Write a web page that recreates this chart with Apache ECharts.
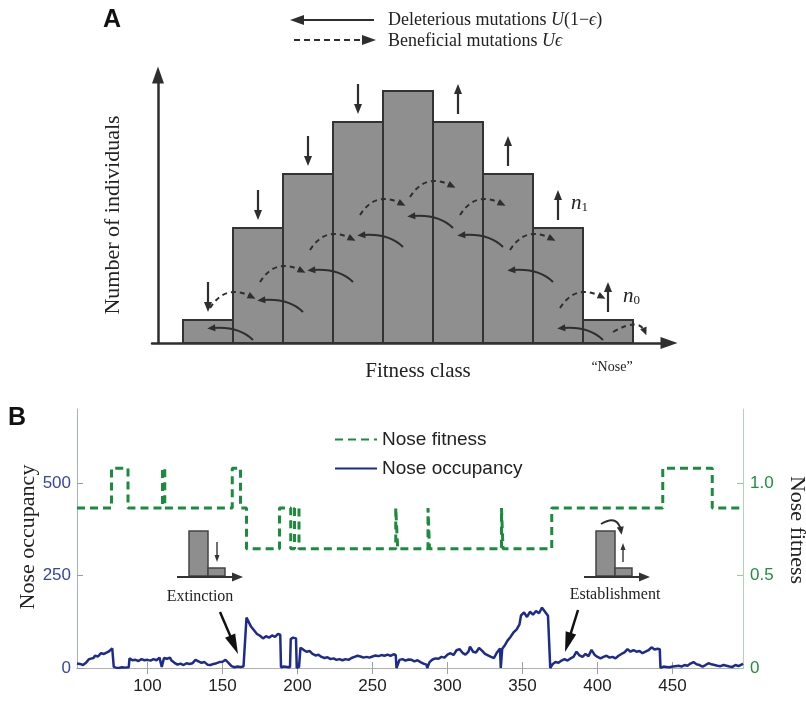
<!DOCTYPE html>
<html>
<head>
<meta charset="utf-8">
<script src="https://cdn.jsdelivr.net/npm/echarts@6/dist/echarts.min.js"></script>
<style>
  html, body { margin: 0; padding: 0; background: #fff; }
  #main { width: 806px; height: 701px; }
</style>
</head>
<body>
<div id="main"></div>
<script>
// ---- panel A : schematic fitness classes ----
var fitnessClass = [1, 2, 3, 4, 5, 6, 7, 8, 9];
var classCounts = [23, 115, 169, 221, 252, 221, 169, 115, 23];
var lossClass = [1, 2, 3, 4];
var gainClass = [6, 7, 8, 9];
// curved arrows at the boundary between class k and k+1
var beneficialFrom = [1, 2, 3, 4, 5, 6, 7, 8, 9];
var beneficialLevel = [35, 61, 93, 128, 146, 128, 93, 35, 11];
var deleteriousFrom = [1, 2, 3, 4, 5, 6, 7, 8];
var deleteriousLevel = [3, 31, 61, 96, 115, 96, 61, 3];

// ---- panel B : nose over time ----
var tickValues = [100, 150, 200, 250, 300, 350, 400, 450];
var noseFitness = [
  [53, 0.865], [76, 1.08], [87, 0.865], [110, 1.08], [111.5, 0.865], [156.5, 1.08], [162, 0.865],
  [166, 0.645], [188, 0.865], [195.5, 0.645], [198, 0.865], [201, 0.645], [265.5, 0.865],
  [266.8, 0.645], [287, 0.865], [288, 0.645], [336, 0.865], [337, 0.645], [369.5, 0.865],
  [443.5, 1.08], [476.5, 0.865], [497, 0.865]
];
var noseOccupancy = [
  [53,12],[55,11],[57,8],[59,14],[61,24],[62,29],[64,27],[65,33],[67,31],[69,40],[71,38],[72,42],
  [74,44],[75,49],[76.5,53],[77.5,3],[79,1],[81,0],[83,2],[85,1],[87.5,2],[88,26],[90,21],[92,22],
  [94,19],[96,24],[98,21],[100,22],[102,20],[104,24],[106,21],[108,28],[109.5,3],[110.5,4],[111,27],
  [113,25],[115,28],[116,20],[118,14],[120,9],[122,12],[124,8],[126,13],[128,11],[130,13],[132,22],
  [134,18],[136,14],[138,16],[140,9],[142,8],[144,11],[146,13],[148,16],[150,17],[152,22],[154,14],
  [156,5],[158,2],[160,4],[162,3],[164,4],[165,4],[166,136],[167,128],[169,112],[171,102],[173,92],
  [175,87],[177,80],[179,86],[181,82],[183,88],[185,84],[187,92],[188.5,90],[189,2],[191,4],[193,3],
  [195,2],[195.5,78],[197,82],[199,80],[199.5,0],[201,3],[202,55],[204,49],[206,44],[208,46],[210,38],
  [212,34],[214,36],[216,30],[218,27],[220,29],[222,24],[224,26],[226,22],[228,24],[230,21],[232,24],
  [234,22],[236,27],[238,30],[240,33],[242,31],[244,28],[246,30],[248,28],[250,31],[252,34],[254,32],
  [256,35],[258,33],[260,36],[262,33],[264,37],[265.5,35],[266,0],[267,3],[268,22],[270,24],[272,20],
  [274,23],[276,22],[278,18],[280,21],[282,16],[284,12],[286,9],[286.5,0],[288,16],[290,23],[292,26],
  [294,25],[296,30],[298,28],[300,36],[302,40],[304,35],[306,48],[308,51],[310,41],[312,36],[314,44],
  [315,58],[317,44],[319,42],[321,54],[323,47],[325,38],[327,34],[329,30],[331,27],[333,42],[335,53],
  [335.5,0],[336.5,52],[338,60],[340,74],[342,84],[344,96],[346,104],[348,118],[349,142],[351,150],
  [353,138],[355,152],[357,144],[359,154],[361,148],[363,163],[365,152],[367,141],[368,138],[368.5,0],
  [370,10],[372,16],[374,14],[376,20],[378,24],[380,20],[382,26],[384,30],[386,44],[388,34],[390,30],
  [392,38],[394,32],[396,49],[398,36],[400,30],[402,26],[404,30],[406,33],[408,28],[410,30],[412,26],
  [414,33],[416,38],[418,42],[420,51],[422,44],[424,48],[426,44],[428,46],[430,40],[432,44],[434,48],
  [436,56],[438,50],[440,52],[441.5,51],[442,0],[444,4],[446,3],[448,2],[450,4],[452,5],[454,6],
  [456,4],[458,8],[460,6],[462,12],[464,16],[466,10],[468,8],[470,4],[472,8],[474,13],[476,10],
  [478,8],[480,6],[482,5],[484,8],[486,6],[488,4],[490,3],[492,8],[494,5],[496,9],[497,12]
];

var SERIF = '"Liberation Serif", "DejaVu Serif", serif';
var SANS = '"Liberation Sans", Arial, sans-serif';
var INK = '#2e2e2e';

function head(tx, ty, dx, dy, len, w, color) {
  var l = Math.sqrt(dx * dx + dy * dy), ux = dx / l, uy = dy / l;
  var bx = tx - ux * len, by = ty - uy * len;
  return {
    type: 'polygon',
    shape: { points: [[tx, ty], [bx - uy * w / 2, by + ux * w / 2], [bx + uy * w / 2, by - ux * w / 2]] },
    style: { fill: color || INK }
  };
}
// straight arrow with head at (x2,y2)
function arrow(x1, y1, x2, y2, len, w, lw, color, dash) {
  var dx = x2 - x1, dy = y2 - y1, l = Math.sqrt(dx * dx + dy * dy);
  var ex = x2 - dx / l * len * 0.7, ey = y2 - dy / l * len * 0.7;
  return [
    { type: 'line', shape: { x1: x1, y1: y1, x2: ex, y2: ey },
      style: { stroke: color || INK, lineWidth: lw, lineDash: dash || null } },
    head(x2, y2, dx, dy, len, w, color)
  ];
}
function curve(p0, c, p1, dash) {
  return [
    { type: 'bezierCurve', shape: { x1: p0[0], y1: p0[1], cpx1: c[0], cpy1: c[1], x2: p1[0], y2: p1[1] },
      style: { stroke: INK, lineWidth: 2, fill: null, lineDash: dash ? [5, 4] : null } },
    head(p1[0] + (p1[0] - c[0]) * 0.22, p1[1] + (p1[1] - c[1]) * 0.22, p1[0] - c[0], p1[1] - c[1], 8, 7)
  ];
}

var chart = echarts.init(document.getElementById('main'), null, { renderer: 'canvas' });

var graphics = [];
function add(arr) { graphics = graphics.concat(arr); }

// panel letters & texts
add([
  { type: 'text', left: 103, top: 8, style: { text: 'A', font: 'bold 25px ' + SANS, fill: '#111' } },
  { type: 'text', left: 8, top: 406, style: { text: 'B', font: 'bold 25px ' + SANS, fill: '#111' } },
  { type: 'text', x: 113, y: 215, rotation: Math.PI / 2,
    style: { text: 'Number of individuals', font: '22px ' + SERIF, fill: '#222', align: 'center', verticalAlign: 'middle' } },
  { type: 'text', x: 418, y: 371,
    style: { text: 'Fitness class', font: '21px ' + SERIF, fill: '#222', align: 'center', verticalAlign: 'middle' } },
  { type: 'text', x: 612, y: 367,
    style: { text: '\u201cNose\u201d', font: '14px ' + SERIF, fill: '#222', align: 'center', verticalAlign: 'middle' } },
  { type: 'text', x: 388, y: 20,
    style: { text: 'Deleterious mutations {i|U}(1\u2212{i|\u03f5})', font: '18px ' + SERIF, fill: '#222', verticalAlign: 'middle',
      rich: { i: { fontStyle: 'italic', fontFamily: SERIF, fontSize: 18 } } } },
  { type: 'text', x: 388, y: 41,
    style: { text: 'Beneficial mutations {i|U\u03f5}', font: '18px ' + SERIF, fill: '#222', verticalAlign: 'middle',
      rich: { i: { fontStyle: 'italic', fontFamily: SERIF, fontSize: 18 } } } },
  { type: 'text', x: 571, y: 203,
    style: { text: '{n|n}{s|1}', verticalAlign: 'middle',
      rich: { n: { fontStyle: 'italic', fontFamily: SERIF, fontSize: 21, fill: '#222' },
              s: { fontFamily: SERIF, fontSize: 13, fill: '#222', padding: [10, 0, 0, 0] } } } },
  { type: 'text', x: 623, y: 296,
    style: { text: '{n|n}{s|0}', verticalAlign: 'middle',
      rich: { n: { fontStyle: 'italic', fontFamily: SERIF, fontSize: 21, fill: '#222' },
              s: { fontFamily: SERIF, fontSize: 13, fill: '#222', padding: [10, 0, 0, 0] } } } },
  { type: 'text', x: 28, y: 537, rotation: Math.PI / 2,
    style: { text: 'Nose occupancy', font: '22px ' + SERIF, fill: '#222', align: 'center', verticalAlign: 'middle' } },
  { type: 'text', x: 797, y: 530, rotation: -Math.PI / 2,
    style: { text: 'Nose fitness', font: '22px ' + SERIF, fill: '#222', align: 'center', verticalAlign: 'middle' } },
  { type: 'text', x: 200, y: 597,
    style: { text: 'Extinction', font: '16px ' + SERIF, fill: '#222', align: 'center', verticalAlign: 'middle' } },
  { type: 'text', x: 615, y: 595,
    style: { text: 'Establishment', font: '16px ' + SERIF, fill: '#222', align: 'center', verticalAlign: 'middle' } }
]);
// legend arrows of panel A
add(arrow(374, 20, 290, 20, 14, 10, 2));
add(arrow(294, 40, 376, 40, 14, 10, 2, INK, [6, 4]));

// insets in panel B
function inset(x0, withCurl) {
  var g = [
    { type: 'rect', shape: { x: x0, y: 531, width: 19, height: 45 }, style: { fill: '#8e8e8e', stroke: '#444', lineWidth: 1.5 } },
    { type: 'rect', shape: { x: x0 + 19, y: 568, width: 17, height: 8 }, style: { fill: '#8e8e8e', stroke: '#444', lineWidth: 1.5 } }
  ];
  g = g.concat(arrow(x0 - 12, 577, x0 + 54, 577, 11, 9, 2.2, '#333'));
  if (withCurl) {
    g = g.concat(arrow(x0 + 27, 562, x0 + 27, 543, 7, 5, 1.4, '#333'));
    g = g.concat(curve([x0 + 5, 524], [x0 + 22, 514], [x0 + 25, 531], false));
  } else {
    g = g.concat(arrow(x0 + 28, 542, x0 + 28, 562, 7, 5, 1.4, '#333'));
  }
  return g;
}
add(inset(189, false));
add(inset(596, true));
add(arrow(220, 612, 238, 654, 20, 11, 2.5, '#111'));
add(arrow(578, 610, 565, 652, 20, 11, 2.5, '#111'));

function barsItem(params, api) {
  var x = api.value(0), y = api.value(1);
  var p0 = api.coord([x - 0.5, y]), p1 = api.coord([x + 0.5, 0]);
  return { type: 'rect', shape: { x: p0[0], y: p0[1], width: p1[0] - p0[0], height: p1[1] - p0[1] },
    style: { fill: '#8f8f8f', stroke: '#333', lineWidth: 2 } };
}
function vertArrowItem(params, api) {
  var p = api.coord([api.value(0), api.value(1)]);
  var up = api.value(2) > 0;
  var top = p[1] - 38, bot = p[1] - 8;
  return { type: 'group', children: up ? arrow(p[0], bot, p[0], top, 10, 8, 2.2) : arrow(p[0], top, p[0], bot, 10, 8, 2.2) };
}
function beneficialItem(params, api) {
  var p = api.coord([api.value(0) + 0.5, api.value(1)]);
  var B = p[0], Y = p[1];
  if (api.value(0) === 9) {
    return { type: 'group', children: curve([B - 20, Y], [B + 6, Y - 15], [B + 12, Y], true) };
  }
  return { type: 'group', children: curve([B - 23, Y], [B - 8, Y - 24], [B + 17, Y - 12], true) };
}
function deleteriousItem(params, api) {
  var p = api.coord([api.value(0) + 0.5, api.value(1)]);
  var B = p[0], Y = p[1];
  return { type: 'group', children: curve([B + 20, Y], [B + 6, Y - 14], [B - 20, Y - 12], false) };
}

var option = {
  animation: false,
  backgroundColor: '#fff',
  graphic: graphics,
  legend: {
    data: ['Nose fitness', 'Nose occupancy'],
    orient: 'vertical',
    left: 329, top: 425,
    itemWidth: 42, itemHeight: 14, itemGap: 10,
    itemStyle: { opacity: 0 },
    textStyle: { fontFamily: SANS, fontSize: 19, color: '#222' }
  },
  grid: [
    { left: 152, top: 75, width: 517, height: 268 },
    { left: 77, top: 409, width: 666, height: 259 }
  ],
  xAxis: [
    { gridIndex: 0, type: 'value', min: -0.12, max: 10.22,
      axisLine: { symbol: ['none', 'triangle'], symbolSize: [12, 17], lineStyle: { color: INK, width: 2.5 } },
      axisTick: { show: false }, axisLabel: { show: false }, splitLine: { show: false } },
    { gridIndex: 1, type: 'value', min: 53, max: 497, position: 'bottom',
      axisLine: { lineStyle: { color: '#b0b0b0', width: 1 } },
      axisTick: { inside: true, length: 6, customValues: tickValues, lineStyle: { color: '#a0a0a0' } },
      axisLabel: { customValues: tickValues, margin: 10, fontFamily: SANS, fontSize: 17, color: '#222' },
      splitLine: { show: false } },
    { gridIndex: 1, type: 'value', min: 53, max: 497, position: 'top',
      axisLine: { lineStyle: { color: '#b0b0b0', width: 1 } },
      axisTick: { inside: true, length: 6, customValues: tickValues, lineStyle: { color: '#a0a0a0' } },
      axisLabel: { show: false }, splitLine: { show: false } }
  ],
  yAxis: [
    { gridIndex: 0, type: 'value', min: 0, max: 268,
      axisLine: { show: true, symbol: ['none', 'triangle'], symbolSize: [12, 17], lineStyle: { color: INK, width: 2.5 } },
      axisTick: { show: false }, axisLabel: { show: false }, splitLine: { show: false } },
    { gridIndex: 1, type: 'value', min: 0, max: 700, position: 'left',
      axisLine: { show: true, lineStyle: { color: '#a3addf', width: 1 } },
      axisTick: { show: true, inside: true, length: 6, customValues: [0, 250, 500], lineStyle: { color: '#8e9ad6' } },
      axisLabel: { customValues: [0, 250, 500], margin: 6, fontFamily: SANS, fontSize: 17, color: '#3546a8' },
      splitLine: { show: false } },
    { gridIndex: 1, type: 'value', min: 0, max: 1.4, position: 'right',
      axisLine: { show: true, lineStyle: { color: '#a8d9b0', width: 1 } },
      axisTick: { show: true, inside: true, length: 6, customValues: [0, 0.5, 1.0], lineStyle: { color: '#8fcf9b' } },
      axisLabel: { customValues: [0, 0.5, 1.0], margin: 7, fontFamily: SANS, fontSize: 17, color: '#1f8f3e',
        formatter: function (v) { return v === 0 ? '0' : v.toFixed(1); } },
      splitLine: { show: false } }
  ],
  series: [
    { type: 'custom', xAxisIndex: 0, yAxisIndex: 0, renderItem: barsItem, clip: false,
      data: fitnessClass.map(function (c, i) { return [c, classCounts[i]]; }) },
    { type: 'custom', xAxisIndex: 0, yAxisIndex: 0, renderItem: vertArrowItem, clip: false,
      data: lossClass.map(function (c) { return [c, classCounts[c - 1], -1]; })
        .concat(gainClass.map(function (c) { return [c, classCounts[c - 1], 1]; })) },
    { type: 'custom', xAxisIndex: 0, yAxisIndex: 0, renderItem: beneficialItem, clip: false, z: 5,
      data: beneficialFrom.map(function (k, i) { return [k, beneficialLevel[i]]; }) },
    { type: 'custom', xAxisIndex: 0, yAxisIndex: 0, renderItem: deleteriousItem, clip: false, z: 5,
      data: deleteriousFrom.map(function (k, i) { return [k, deleteriousLevel[i]]; }) },
    { name: 'Nose fitness', type: 'line', xAxisIndex: 1, yAxisIndex: 2, step: 'end',
      data: noseFitness, symbol: 'none', color: '#1b8c3c',
      lineStyle: { color: '#1b8c3c', width: 3, type: [8, 5] } },
    { name: 'Nose occupancy', type: 'line', xAxisIndex: 1, yAxisIndex: 1,
      data: noseOccupancy, symbol: 'none', color: '#1d2b8e',
      lineStyle: { color: '#1d2b8e', width: 2.5 } }
  ]
};
chart.setOption(option);
</script>
</body>
</html>
